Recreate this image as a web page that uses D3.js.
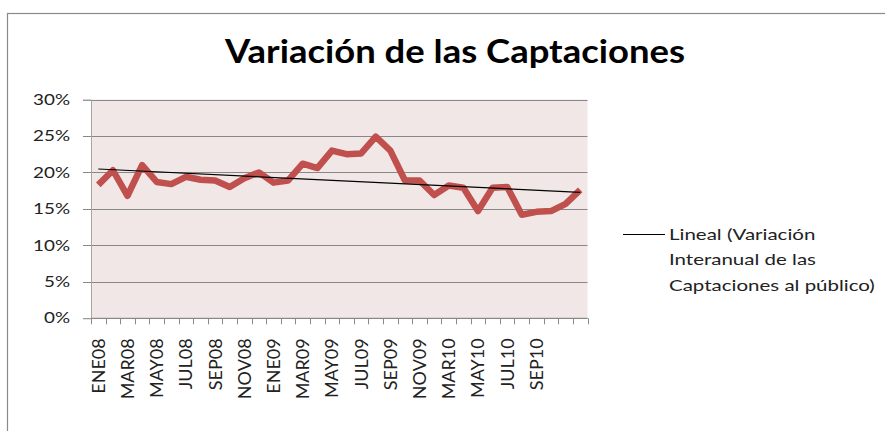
<!DOCTYPE html>
<html>
<head>
<meta charset="utf-8">
<script src="https://cdn.jsdelivr.net/npm/d3@7/dist/d3.min.js"></script>
<style>
  body { margin: 0; background: #fff; }
  svg { display: block; font-family: Lato, "Open Sans", sans-serif; }
</style>
</head>
<body>
<div id="chart"></div>
<script>
var width = 885
var height = 431

// categories (ENE10 / FEB10 are not in the source sheet)
var months = ["ENE08","FEB08","MAR08","ABR08","MAY08","JUN08","JUL08","AGO08","SEP08","OCT08","NOV08","DIC08",
              "ENE09","FEB09","MAR09","ABR09","MAY09","JUN09","JUL09","AGO09","SEP09","OCT09","NOV09","DIC09",
              "MAR10","ABR10","MAY10","JUN10","JUL10","AGO10","SEP10","OCT10","NOV10","DIC10"]
// labels the axis actually shows
var shownLabels = ["ENE08","MAR08","MAY08","JUL08","SEP08","NOV08","ENE09","MAR09","MAY09","JUL09",
                   "SEP09","NOV09","MAR10","MAY10","JUL10","SEP10"]
// Variacion interanual de las captaciones al publico (fraction)
var variacion = [0.183, 0.203, 0.168, 0.210, 0.187, 0.184, 0.194, 0.190, 0.189, 0.180, 0.192, 0.200,
                 0.186, 0.189, 0.212, 0.206, 0.230, 0.225, 0.226, 0.249, 0.230, 0.189, 0.189, 0.169,
                 0.182, 0.179, 0.147, 0.179, 0.180, 0.142, 0.146, 0.147, 0.157, 0.176]
var yTicks = [0, 0.05, 0.10, 0.15, 0.20, 0.25, 0.30]

var chartTitle = "Variación de las Captaciones"
var legendLines = ["Lineal (Variación", "Interanual de las", "Captaciones al público)"]

var plot = { left: 91, right: 587.5, top: 99.5, bottom: 318.3 }

// stretch text horizontally like the reference (it was resized wider)
function stretch(sel, k) {
    sel.each(function () {
        var len = this.getComputedTextLength()
        d3.select(this).attr("textLength", len * k).attr("lengthAdjust", "spacingAndGlyphs")
    })
}

var svg = d3.select("#chart")
    .append("svg")
    .attr("width", width)
    .attr("height", height)

// chart area border
svg.append("rect")
    .attr("x", 7.5).attr("y", 13.5)
    .attr("width", width + 20).attr("height", height + 20)
    .attr("fill", "#fff")
    .attr("stroke", "#8a8a8a")
    .attr("stroke-width", 1.2)

var x = d3.scaleBand()
    .domain(months)
    .range([plot.left, plot.right])
    .padding(0)

var y = d3.scaleLinear()
    .domain([0, 0.30])
    .range([plot.bottom, plot.top])

// plot area
svg.append("rect")
    .attr("x", plot.left).attr("y", plot.top)
    .attr("width", plot.right - plot.left).attr("height", plot.bottom - plot.top)
    .attr("fill", "#f2e7e7")

// gridlines (extend out as tick marks)
svg.append("g")
    .selectAll("line")
    .data(yTicks)
    .join("line")
    .attr("x1", plot.left - 8).attr("x2", plot.right)
    .attr("y1", (d) => Math.round(y(d)) + 0.5).attr("y2", (d) => Math.round(y(d)) + 0.5)
    .attr("stroke", "#878787")
    .attr("stroke-width", 1)

// y axis
var yAxis = svg.append("g")
    .attr("transform", "translate(" + plot.left + ",0)")
    .call(d3.axisLeft(y).tickValues(yTicks).tickFormat(d3.format(".0%")).tickSize(8).tickPadding(13))
yAxis.select(".domain").attr("stroke", "#a6a6a6")
yAxis.selectAll(".tick line").remove()
yAxis.selectAll("text")
    .attr("fill", "#222")
    .style("font-family", "Lato, sans-serif")
    .style("font-size", "14.5px")
    .call(stretch, 1.3)

// x axis: ticks on category boundaries
var bounds = months.map((m) => x(m)).concat([x(months[months.length - 1]) + x.bandwidth()])
svg.append("line")
    .attr("x1", plot.left).attr("x2", plot.right)
    .attr("y1", plot.bottom).attr("y2", plot.bottom)
    .attr("stroke", "#878787")
svg.append("g")
    .selectAll("line")
    .data(bounds)
    .join("line")
    .attr("x1", (d) => Math.round(d) + 0.5).attr("x2", (d) => Math.round(d) + 0.5)
    .attr("y1", plot.bottom).attr("y2", plot.bottom + 6)
    .attr("stroke", "#8a8a8a")

svg.append("g")
    .selectAll("text")
    .data(shownLabels)
    .join("text")
    .attr("transform", (d) => "translate(" + (x(d) + x.bandwidth() / 2 + 6.5) + "," + (plot.bottom + 20) + ") rotate(-90)")
    .attr("text-anchor", "end")
    .attr("fill", "#222")
    .style("font-family", "Lato, sans-serif")
    .style("font-size", "18px")
    .text((d) => d)

// data series
var pts = months.map((m, i) => ({ cx: x(m) + x.bandwidth() / 2, v: variacion[i], i: i }))
svg.append("path")
    .datum(pts)
    .attr("fill", "none")
    .attr("stroke", "#c0504d")
    .attr("stroke-width", 6.5)
    .attr("stroke-linejoin", "round")
    .attr("d", d3.line().x((d) => d.cx).y((d) => y(d.v)))

// linear trend line (least squares, like Excel's "Lineal")
var n = pts.length
var mx = d3.mean(pts, (d) => d.i)
var my = d3.mean(pts, (d) => d.v)
var slope = d3.sum(pts, (d) => (d.i - mx) * (d.v - my)) / d3.sum(pts, (d) => (d.i - mx) * (d.i - mx))
var icpt = my - slope * mx
var trend = [pts[0], pts[n - 1]].map((d) => ({ cx: d.cx, v: icpt + slope * d.i }))
svg.append("path")
    .datum(trend)
    .attr("fill", "none")
    .attr("stroke", "#000")
    .attr("stroke-width", 1.2)
    .attr("d", d3.line().x((d) => d.cx).y((d) => y(d.v)))

// title
svg.append("text")
    .attr("x", 455)
    .attr("y", 63)
    .attr("text-anchor", "middle")
    .attr("fill", "#000")
    .style("font-family", "Lato, sans-serif")
    .style("font-weight", "bold")
    .style("font-size", "33px")
    .attr("textLength", 460)
    .attr("lengthAdjust", "spacingAndGlyphs")
    .text(chartTitle)

// legend
var legend = svg.append("g").attr("transform", "translate(623,0)")
legend.append("line")
    .attr("x1", 0).attr("x2", 42)
    .attr("y1", 234.5).attr("y2", 234.5)
    .attr("stroke", "#000")
legend.selectAll("text")
    .data(legendLines)
    .join("text")
    .attr("x", 46)
    .attr("y", (d, i) => 239.5 + i * 25.6)
    .attr("fill", "#222")
    .style("font-family", "Lato, sans-serif")
    .style("font-size", "16px")
    .text((d) => d)
    .call(stretch, 1.28)
</script>
</body>
</html>
